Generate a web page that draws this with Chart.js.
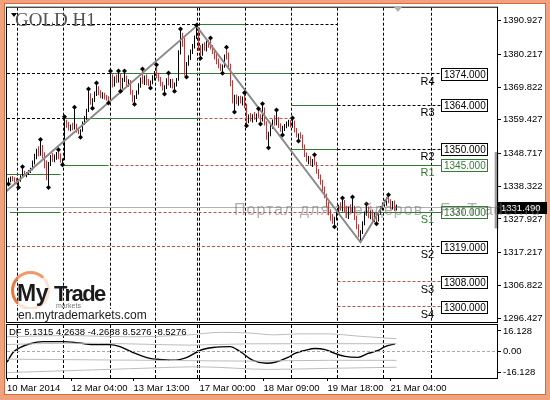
<!DOCTYPE html>
<html>
<head>
<meta charset="utf-8">
<title>GOLD H1</title>
<script src="https://cdn.jsdelivr.net/npm/chart.js@4.4.1/dist/chart.umd.min.js"></script>
<style>
  html, body { margin: 0; padding: 0; background: #fff; }
  #frame { position: relative; width: 550px; height: 400px; background: #f0a27e; overflow: hidden; }
  #paper { position: absolute; left: 5px; top: 4px; width: 540px; height: 390px; background: #fff; outline: 1px solid #d9683a; }
  canvas { position: absolute; left: 0; top: 0; }
  .txt { position: absolute; white-space: nowrap; font-family: "Liberation Sans", Arial, sans-serif; line-height: 1; }
  #title { left: 15px; top: 10px; font-family: "Liberation Serif", "Times New Roman", serif; font-size: 19px; color: #525252; }
  #tri { position: absolute; left: 11px; top: 13px; width: 0; height: 0; border-left: 3px solid transparent; border-right: 3px solid transparent; border-top: 4px solid #000; }
  #shift { position: absolute; left: 394px; top: 7px; width: 0; height: 0; border-left: 4px solid transparent; border-right: 4px solid transparent; border-top: 5px solid #b0b0b0; }
  #wm { left: 234px; top: 202px; font-size: 16px; letter-spacing: 1px; color: rgba(110,110,110,0.55); }
  #ring { position: absolute; left: 11px; top: 271px; width: 33px; height: 33px; border-radius: 50%; border: 3px solid; border-color: #f09a6a #fbe2d2 #fbe2d2 #e6783f; }
  #my { left: 17px; top: 282px; font-size: 23px; font-weight: bold; color: #1b1b1b; letter-spacing: -0.5px; }
  #trade { left: 54px; top: 283px; font-size: 22px; font-weight: bold; color: #1b1b1b; letter-spacing: -1.6px; }
  #mk { left: 56px; top: 302px; font-size: 7px; color: #777; }
  #url { left: 18px; top: 309px; font-size: 12px; color: #1c1c1c; background: #fff; padding-right: 2px; }
  #df { left: 9px; top: 327px; font-size: 9.5px; color: #000; }
</style>
</head>
<body>
<div id="frame">
  <div id="paper"></div>
  <canvas id="main" width="550" height="400"></canvas>
  <canvas id="ind" width="550" height="400"></canvas>
  <div id="tri"></div>
  <div class="txt" id="title">GOLD H1</div>
  <div id="shift"></div>
  <div class="txt" id="wm">Портал для трейдеров - ForTrader.ru</div>
  <div id="ring"></div>
  <div class="txt" id="my">My</div>
  <div class="txt" id="trade">Trade</div>
  <div class="txt" id="mk">markets</div>
  <div class="txt" id="url">en.mytrademarkets.com</div>
  <div class="txt" id="df">DF 5.1315 4.2638 -4.2638 8.5276 -8.5276</div>
</div>
<script>
// hourly bars, index 0 = 10 Mar 18:00
const open = [
  1339.9,1340.2,1340.8,1340.1,1339.8,1339.2,1340.1,1341.3,1342.6,1341.9,
  1342.4,1343.1,1343.8,1346.0,1348.1,1349.4,1348.6,1350.3,1348.0,1345.2,
  1343.6,1345.4,1347.6,1346.8,1347.9,1348.5,1347.4,1346.3,1346.9,1359.0,
  1357.6,1356.6,1357.3,1356.8,1357.5,1355.9,1355.2,1356.0,1358.4,1360.0,
  1362.2,1366.5,1365.0,1365.9,1367.8,1369.4,1368.0,1366.9,1367.5,1366.4,
  1366.0,1365.8,1373.4,1370.6,1372.5,1371.8,1373.6,1369.8,1372.1,1372.9,
  1370.8,1371.6,1368.1,1365.9,1366.6,1368.1,1370.2,1372.0,1371.6,1372.9,
  1371.1,1370.8,1371.3,1372.8,1374.2,1373.1,1372.2,1370.7,1369.3,1369.8,
  1371.9,1370.9,1371.8,1370.0,1370.6,1372.2,1380.9,1386.4,1383.5,1375.1,
  1377.2,1379.3,1381.1,1382.8,1385.7,1388.0,1382.2,1380.5,1382.9,1382.0,
  1383.9,1382.9,1382.4,1380.8,1379.2,1377.7,1376.3,1375.4,1376.6,1379.7,
  1379.4,1376.5,1371.0,1365.8,1366.8,1365.1,1366.3,1365.2,1366.4,1363.8,
  1358.8,1360.5,1359.6,1360.7,1360.1,1361.0,1360.3,1359.3,1362.6,1358.2,
  1353.9,1354.8,1357.3,1358.8,1358.1,1359.6,1357.4,1356.2,1356.9,1357.6,
  1358.3,1358.7,1357.8,1358.9,1356.0,1354.3,1354.7,1353.9,1350.9,1348.2,
  1346.7,1347.3,1345.6,1346.5,1345.5,1342.9,1341.3,1339.5,1337.3,1335.1,
  1332.3,1329.8,1328.1,1327.2,1328.0,1330.3,1331.8,1331.1,1333.4,1330.7,
  1329.1,1331.3,1330.4,1331.5,1328.2,1325.3,1322.9,1323.6,1326.6,1329.8,
  1331.2,1328.7,1330.1,1327.9,1329.3,1327.5,1329.9,1331.5,1332.6,1333.2,
  1334.1,1333.5,1331.8,1332.9,1331.0
];
const high = [
  1341.0,1341.4,1341.6,1341.2,1340.9,1340.5,1341.8,1344.0,1343.2,1342.8,
  1343.5,1344.2,1346.5,1348.6,1350.2,1351.0,1352.9,1351.4,1349.1,1346.5,
  1346.0,1348.2,1348.9,1348.4,1349.2,1349.6,1348.8,1347.1,1360.0,1359.4,
  1358.7,1357.9,1358.5,1363.1,1358.2,1357.0,1356.4,1358.9,1360.6,1362.9,
  1368.8,1367.9,1366.3,1368.4,1370.7,1370.1,1368.8,1368.2,1368.0,1367.3,
  1366.9,1374.5,1373.9,1373.2,1373.8,1374.5,1374.0,1372.8,1374.5,1373.5,
  1372.3,1372.1,1368.9,1367.2,1368.7,1371.0,1372.9,1375.2,1373.5,1373.8,
  1372.4,1371.9,1373.6,1374.9,1376.5,1374.4,1373.0,1371.5,1370.4,1372.6,
  1373.9,1372.4,1372.5,1371.3,1372.7,1381.5,1388.0,1387.1,1385.6,1377.8,
  1379.9,1381.8,1383.5,1386.2,1389.2,1388.9,1383.1,1383.6,1384.1,1384.6,
  1384.9,1385.1,1383.2,1382.0,1380.4,1378.9,1377.3,1377.0,1380.2,1382.2,
  1380.8,1377.2,1372.0,1367.4,1367.5,1366.9,1367.1,1366.8,1367.6,1364.5,
  1361.1,1361.6,1361.2,1361.9,1361.4,1362.5,1361.2,1364.1,1363.3,1359.0,
  1355.6,1357.9,1359.5,1360.9,1362.2,1360.3,1358.3,1357.5,1358.1,1358.9,
  1359.4,1359.3,1359.7,1359.2,1356.8,1355.1,1355.5,1354.7,1351.6,1349.0,
  1347.9,1347.8,1347.0,1347.9,1346.1,1343.8,1342.0,1340.4,1338.2,1336.0,
  1333.3,1331.0,1329.5,1328.6,1330.9,1332.4,1333.2,1334.3,1333.9,1332.1,
  1331.8,1332.6,1334.6,1332.1,1329.0,1326.2,1324.3,1327.2,1330.3,1332.4,
  1331.9,1330.6,1330.9,1329.8,1329.9,1330.4,1332.0,1333.1,1334.0,1334.8,
  1335.3,1334.2,1333.6,1333.8,1332.5
];
const low = [
  1339.4,1339.6,1339.9,1339.5,1338.9,1338.3,1339.7,1341.0,1341.4,1341.2,
  1341.9,1342.5,1343.4,1345.2,1346.9,1347.8,1348.0,1347.2,1344.0,1340.2,
  1338.3,1344.7,1346.1,1345.9,1346.7,1346.9,1345.8,1345.4,1346.6,1356.9,
  1356.0,1355.8,1356.1,1356.3,1355.3,1354.8,1354.3,1355.6,1357.8,1359.4,
  1361.9,1364.2,1363.5,1365.1,1367.0,1367.2,1366.3,1366.1,1365.9,1365.5,
  1365.2,1365.5,1369.7,1370.0,1371.1,1371.3,1368.9,1369.3,1371.4,1370.2,
  1369.9,1367.4,1365.0,1364.8,1366.0,1367.5,1369.6,1370.8,1370.5,1370.4,
  1370.2,1369.9,1370.7,1371.9,1372.6,1371.6,1370.1,1368.7,1368.0,1369.2,
  1370.3,1369.6,1369.4,1368.9,1370.0,1371.8,1380.2,1382.6,1373.5,1373.3,
  1376.6,1378.4,1380.3,1382.1,1385.1,1381.3,1379.3,1379.8,1381.4,1381.1,
  1382.3,1381.8,1380.3,1378.6,1377.1,1375.8,1374.9,1374.5,1376.0,1378.6,
  1375.9,1370.1,1364.6,1362.3,1364.4,1363.9,1364.6,1364.0,1363.1,1357.9,
  1358.3,1358.9,1358.6,1359.4,1358.7,1359.9,1358.5,1358.9,1357.6,1353.1,
  1350.9,1354.2,1356.6,1357.5,1357.7,1356.8,1355.6,1355.0,1355.9,1356.7,
  1357.3,1357.0,1356.9,1355.4,1353.8,1353.1,1353.4,1350.2,1347.6,1346.1,
  1345.3,1344.9,1344.4,1345.0,1342.3,1340.6,1338.8,1336.7,1334.5,1331.6,
  1329.1,1327.3,1326.4,1325.8,1327.4,1329.5,1330.6,1330.3,1330.0,1328.2,
  1327.9,1329.7,1329.8,1327.6,1324.6,1322.1,1320.5,1323.1,1325.9,1328.9,
  1328.1,1327.8,1327.3,1326.9,1326.8,1327.1,1329.2,1330.6,1331.8,1332.1,
  1332.9,1331.0,1330.9,1330.4,1330.6
];
const close = [
  1340.2,1340.8,1340.1,1339.8,1339.2,1340.1,1341.3,1342.6,1341.9,1342.4,
  1343.1,1343.8,1346.0,1348.1,1349.4,1348.6,1350.3,1348.0,1345.2,1343.6,
  1345.4,1347.6,1346.8,1347.9,1348.5,1347.4,1346.3,1346.9,1359.0,1357.6,
  1356.6,1357.3,1356.8,1357.5,1355.9,1355.2,1356.0,1358.4,1360.0,1362.2,
  1366.5,1365.0,1365.9,1367.8,1369.4,1368.0,1366.9,1367.5,1366.4,1366.0,
  1365.8,1373.4,1370.6,1372.5,1371.8,1373.6,1369.8,1372.1,1372.9,1370.8,
  1371.6,1368.1,1365.9,1366.6,1368.1,1370.2,1372.0,1371.6,1372.9,1371.1,
  1370.8,1371.3,1372.8,1374.2,1373.1,1372.2,1370.7,1369.3,1369.8,1371.9,
  1370.9,1371.8,1370.0,1370.6,1372.2,1380.9,1386.4,1383.5,1375.1,1377.2,
  1379.3,1381.1,1382.8,1385.7,1388.0,1382.2,1380.5,1382.9,1382.0,1383.9,
  1382.9,1382.4,1380.8,1379.2,1377.7,1376.3,1375.4,1376.6,1379.7,1379.4,
  1376.5,1371.0,1365.8,1366.8,1365.1,1366.3,1365.2,1366.4,1363.8,1358.8,
  1360.5,1359.6,1360.7,1360.1,1361.0,1360.3,1359.3,1362.6,1358.2,1353.9,
  1354.8,1357.3,1358.8,1358.1,1359.6,1357.4,1356.2,1356.9,1357.6,1358.3,
  1358.7,1357.8,1358.9,1356.0,1354.3,1354.7,1353.9,1350.9,1348.2,1346.7,
  1347.3,1345.6,1346.5,1345.5,1342.9,1341.3,1339.5,1337.3,1335.1,1332.3,
  1329.8,1328.1,1327.2,1328.0,1330.3,1331.8,1331.1,1333.4,1330.7,1329.1,
  1331.3,1330.4,1331.5,1328.2,1325.3,1322.9,1323.6,1326.6,1329.8,1331.2,
  1328.7,1330.1,1327.9,1329.3,1327.5,1329.9,1331.5,1332.6,1333.2,1334.1,
  1333.5,1331.8,1332.9,1331.0,1331.49
];

// fractal arrows
const fracUpIdx = [7,16,25,28,33,40,44,51,55,58,67,74,80,86,94,101,109,118,125,127,134,142,153,167,172,179,190];
const fracUpVal = [1344.5,1353.2,1349.9,1360.4,1363.4,1369.2,1371.1,1374.9,1374.9,1374.9,1375.6,1376.9,1374.3,1388.3,1389.5,1385.4,1382.5,1368.0,1362.9,1364.5,1362.5,1360.0,1348.3,1334.6,1334.9,1332.7,1335.6];
const fracDnIdx = [0,5,20,27,36,42,50,56,63,71,78,83,89,96,107,113,119,126,130,137,145,163,184];
const fracDnVal = [1339.0,1337.9,1337.9,1345.1,1353.9,1363.1,1364.8,1368.5,1364.4,1369.5,1367.6,1368.5,1373.0,1379.0,1374.2,1361.9,1357.5,1358.1,1350.5,1354.6,1352.7,1325.4,1326.4];

// zigzag swing points
const zzIdx = [-6, 94, 176, 190];
const zzVal = [1334.0, 1389.2, 1320.5, 1335.3];

// today's pivot levels
const pivotNames  = ['R4','R3','R2','R1','S1','S2','S3','S4'];
const pivotLevels = [1374, 1364, 1350, 1345, 1330, 1319, 1308, 1300];
const greenTags = ['R1','S1'];

// pivot lines of earlier days: [price, fromBar, toBar, kind]  g=solid green, k=black dash, r=red dash
const levelSegs = [
  [1389.66, -0.75, 95.5, 'k'], [1389.66, 95.5, 118.5, 'g'], [1389.66, 118.5, 164.5, 'k'],
  [1374, -0.75, 51, 'k'], [1374, 51, 141.5, 'g'], [1374, 141.5, 216.25, 'k'],
  [1364, 141.5, 164.5, 'g'], [1364, 164.5, 216.25, 'k'],
  [1359.85, -0.75, 27.5, 'k'], [1359.85, 27.5, 95.5, 'g'], [1359.85, 95.5, 141.5, 'r'],
  [1350, 141.5, 164.5, 'g'], [1350, 164.5, 216.25, 'k'],
  [1345, 27.5, 50, 'g'], [1345, 51, 164.5, 'r'], [1345, 164.5, 216.25, 'g'],
  [1342.09, -0.75, 26, 'g'],
  [1330, 0.75, 26, 'g'], [1330, 27.5, 164.5, 'r'], [1330, 164.5, 216.25, 'g'],
  [1319, -0.75, 141.5, 'r'], [1319, 141.5, 216.25, 'k'],
  [1308, 164.5, 216.25, 'r'], [1300, 164.5, 216.25, 'r']
];
const tagBar = 216.25;
const spreadRange = [1325.0, 1349.1];

const priceTicks = [1296.427, 1306.822, 1317.217, 1327.927, 1338.322, 1348.717, 1359.427, 1369.822, 1380.217, 1390.927];
const daySeparators = [4.5, 27.5, 51, 73.5, 94.5, 95.5, 118.5, 141.5, 164.5, 187.5, 211.5];
const timeTickIdx = [-0.75, 31.5, 62.5, 95.5, 127.5, 159.5, 191];
const timeLabels = ['10 Mar 2014', '12 Mar 04:00', '13 Mar 13:00', '17 Mar 00:00', '18 Mar 09:00', '19 Mar 18:00', '21 Mar 04:00'];

// DF oscillator and its bands: [bar, value]
const dfLine = [[-0.75,-8.4],[2.25,-0.8],[5.75,3.1],[10.75,6.1],[17.25,7.7],[27.25,7.7],[34.25,6.9],[42.25,5.4],[50.75,5.4],[55.75,3.8],[62.25,-0.8],[70.75,-5.4],[74.25,-6.1],[82.25,-6.9],[89.25,-4.6],[95.75,0.8],[102.25,3.1],[110.75,3.8],[115.75,0],[122.25,-6.9],[129.25,-9.2],[133.25,-8.4],[139.75,-4.6],[143.25,-1.5],[148.25,0.8],[153.25,2.3],[158.25,1.5],[163.25,-1.5],[168.25,-3.8],[174.75,-4.6],[179.75,-1.5],[184.75,0.8],[188.25,3.8],[193.25,6.1]];
const bandOuterUp = [[-0.75,11.5],[30,12.5],[60,11.5],[90,13],[106,15],[120,14.5],[133,13],[145,13.8],[160,13.8],[175,12],[194,10]];
const bandInnerUp = [[-0.75,5.5],[30,6.5],[60,6],[90,5],[120,6],[150,6.1],[194,6.1]];
const bandInnerDn = [[-0.75,-6],[40,-6.5],[80,-7],[120,-7.5],[160,-6.9],[194,-6.9]];
const bandOuterDn = [[-0.75,-16.5],[30,-15],[60,-13.5],[95,-12],[130,-14],[160,-13.2],[194,-12.3]];

const FONT = '"Liberation Sans", Arial, sans-serif';
const X_MIN = -0.75, X_MAX = 244.25;

// keep 1px horizontal level lines crisp
const snapLevels = {
  id: 'snapLevels',
  afterDatasetsUpdate(chart) {
    chart.data.datasets.forEach((ds, i) => {
      if (!ds.snap) return;
      chart.getDatasetMeta(i).data.forEach(pt => { pt.y = Math.round(pt.y - 0.5) + 0.5; });
    });
  }
};

const dayLines = {
  id: 'dayLines',
  beforeDatasetsDraw(chart) {
    const {ctx, chartArea: a, scales: {x}} = chart;
    ctx.save();
    ctx.strokeStyle = '#000';
    ctx.lineWidth = 1;
    ctx.setLineDash([3, 2]);
    daySeparators.forEach(v => {
      const px = x.getPixelForValue(v);
      ctx.beginPath();
      ctx.moveTo(px, a.top);
      ctx.lineTo(px, a.bottom);
      ctx.stroke();
    });
    ctx.restore();
  }
};

const paneFrame = {
  id: 'paneFrame',
  afterDraw(chart) {
    const {ctx, chartArea: a} = chart;
    ctx.save();
    ctx.strokeStyle = '#000';
    ctx.lineWidth = 1;
    ctx.strokeRect(a.left - 0.5, a.top - 0.5, a.right - a.left + 1, a.bottom - a.top + 1);
    ctx.restore();
  }
};

const levelTags = {
  id: 'levelTags',
  afterDatasetsDraw(chart) {
    const {ctx, scales: {x, y}} = chart;
    const bx = Math.round(x.getPixelForValue(tagBar)) + 0.5;
    ctx.save();
    ctx.lineWidth = 1;
    ctx.textBaseline = 'middle';
    pivotLevels.forEach((p, k) => {
      const py = Math.round(y.getPixelForValue(p));
      const col = greenTags.includes(pivotNames[k]) ? '#2f7d32' : '#000';
      ctx.strokeStyle = col;
      ctx.fillStyle = col;
      ctx.strokeRect(bx, py - 5.5, 46, 12);
      ctx.font = '10px ' + FONT;
      ctx.textAlign = 'left';
      ctx.fillText(p.toFixed(3), bx + 2.5, py + 1);
      ctx.font = '11px ' + FONT;
      ctx.textAlign = 'center';
      ctx.fillText(pivotNames[k], bx - 14, py + 8);
    });
    ctx.restore();
  },
  afterDraw(chart) {
    const {ctx, scales: {y}} = chart;
    const last = close[close.length - 1];
    const py = Math.round(y.getPixelForValue(last));
    ctx.save();
    ctx.fillStyle = '#000';
    ctx.fillRect(y.left + 1, py - 6, 49, 12);
    ctx.fillStyle = '#fff';
    ctx.font = '9.5px ' + FONT;
    ctx.textBaseline = 'middle';
    ctx.textAlign = 'left';
    ctx.fillText(last.toFixed(3), y.left + 4, py + 0.5);
    ctx.restore();
  }
};

const segColor = {k: '#000000', g: '#2f7d32', r: '#c0504d'};
const segSets = levelSegs.map(s => ({
  type: 'line',
  data: [{x: s[1], y: s[0]}, {x: s[2], y: s[0]}],
  borderColor: segColor[s[3]],
  borderWidth: 1,
  borderDash: s[3] === 'g' ? [] : [3, 2],
  pointRadius: 0,
  snap: true,
  order: 6
}));

const lastClose = close[close.length - 1];

new Chart(document.getElementById('main'), {
  type: 'bar',
  data: {
    datasets: [
      ...segSets,
      {
        type: 'line',
        data: [{x: X_MIN, y: lastClose}, {x: X_MAX, y: lastClose}],
        borderColor: '#b0b0b0', borderWidth: 1, pointRadius: 0, snap: true, order: 5
      },
      {
        type: 'bar',
        data: [{x: 244, y: spreadRange}],
        backgroundColor: '#9c9c9c',
        barThickness: 3, grouped: true, clip: false, order: 4
      },
      {
        type: 'bar',
        data: high.map((h, i) => ({x: i, y: [low[i], h]})),
        backgroundColor: close.map((c, i) => c >= open[i] ? '#000000' : '#b43c3c'),
        maxBarThickness: 1, grouped: false, order: 3
      },
      {
        type: 'line',
        data: zzIdx.map((v, i) => ({x: v, y: zzVal[i]})),
        borderColor: '#8a8a8a', borderWidth: 2, pointRadius: 0, order: 2
      },
      {
        type: 'line',
        data: fracUpIdx.map((v, i) => ({x: v, y: fracUpVal[i]})),
        showLine: false, pointStyle: 'rectRot', pointRadius: 2.5,
        pointBackgroundColor: '#000', pointBorderWidth: 0, order: 1
      },
      {
        type: 'line',
        data: fracDnIdx.map((v, i) => ({x: v, y: fracDnVal[i]})),
        showLine: false, pointStyle: 'rectRot', pointRadius: 2.5,
        pointBackgroundColor: '#000', pointBorderWidth: 0, order: 1
      }
    ]
  },
  options: {
    responsive: false,
    animation: false,
    devicePixelRatio: 1,
    events: [],
    layout: {padding: {left: 7, top: 7, right: 0, bottom: 78}},
    plugins: {legend: {display: false}, tooltip: {enabled: false}},
    scales: {
      x: {type: 'linear', min: X_MIN, max: X_MAX, offset: false, display: false},
      y: {
        position: 'right',
        min: 1295.159, max: 1395.05,
        afterBuildTicks: s => { s.ticks = priceTicks.map(v => ({value: v})); },
        afterFit: s => { s.width = 53; },
        ticks: {
          autoSkip: false, color: '#000', padding: 2,
          font: {family: FONT, size: 9.5},
          callback: v => v.toFixed(3)
        },
        grid: {drawOnChartArea: false, tickLength: 4, color: '#000'},
        border: {display: false}
      }
    }
  },
  plugins: [snapLevels, dayLines, levelTags, paneFrame]
});

const pairs = arr => arr.map(([x, y]) => ({x, y}));
const band = arr => ({
  data: pairs(arr), borderColor: '#bcbcbc', borderWidth: 1, pointRadius: 0,
  tension: 0.4, cubicInterpolationMode: 'monotone'
});

new Chart(document.getElementById('ind'), {
  type: 'line',
  data: {
    datasets: [
      {
        data: [{x: X_MIN, y: 0}, {x: X_MAX, y: 0}],
        borderColor: '#a8a8a8', borderWidth: 1, borderDash: [3, 2], pointRadius: 0, snap: true
      },
      band(bandOuterUp), band(bandInnerUp), band(bandInnerDn), band(bandOuterDn),
      {
        data: pairs(dfLine), borderColor: '#000', borderWidth: 1.4, pointRadius: 0,
        cubicInterpolationMode: 'monotone'
      }
    ]
  },
  options: {
    responsive: false,
    animation: false,
    devicePixelRatio: 1,
    events: [],
    layout: {padding: {left: 7, top: 325, right: 0, bottom: 5}},
    plugins: {legend: {display: false}, tooltip: {enabled: false}},
    scales: {
      x: {
        type: 'linear', min: X_MIN, max: X_MAX, offset: false,
        afterBuildTicks: s => { s.ticks = timeTickIdx.map(v => ({value: v})); },
        afterFit: s => { s.height = 17; },
        ticks: {
          autoSkip: false, maxRotation: 0, align: 'start', color: '#000', padding: 2,
          font: {family: FONT, size: 9.5},
          callback: (v, i) => timeLabels[i]
        },
        grid: {drawOnChartArea: false, tickLength: 3, color: '#000'},
        border: {display: false}
      },
      y: {
        position: 'right',
        min: -20.74, max: 20.74,
        afterBuildTicks: s => { s.ticks = [-16.128, 0, 16.128].map(v => ({value: v})); },
        afterFit: s => { s.width = 53; },
        ticks: {
          autoSkip: false, color: '#000', padding: 2,
          font: {family: FONT, size: 9.5},
          callback: v => v === 0 ? '0.00' : v.toFixed(3)
        },
        grid: {drawOnChartArea: false, tickLength: 4, color: '#000'},
        border: {display: false}
      }
    }
  },
  plugins: [snapLevels, dayLines, paneFrame]
});
</script>
</body>
</html>
